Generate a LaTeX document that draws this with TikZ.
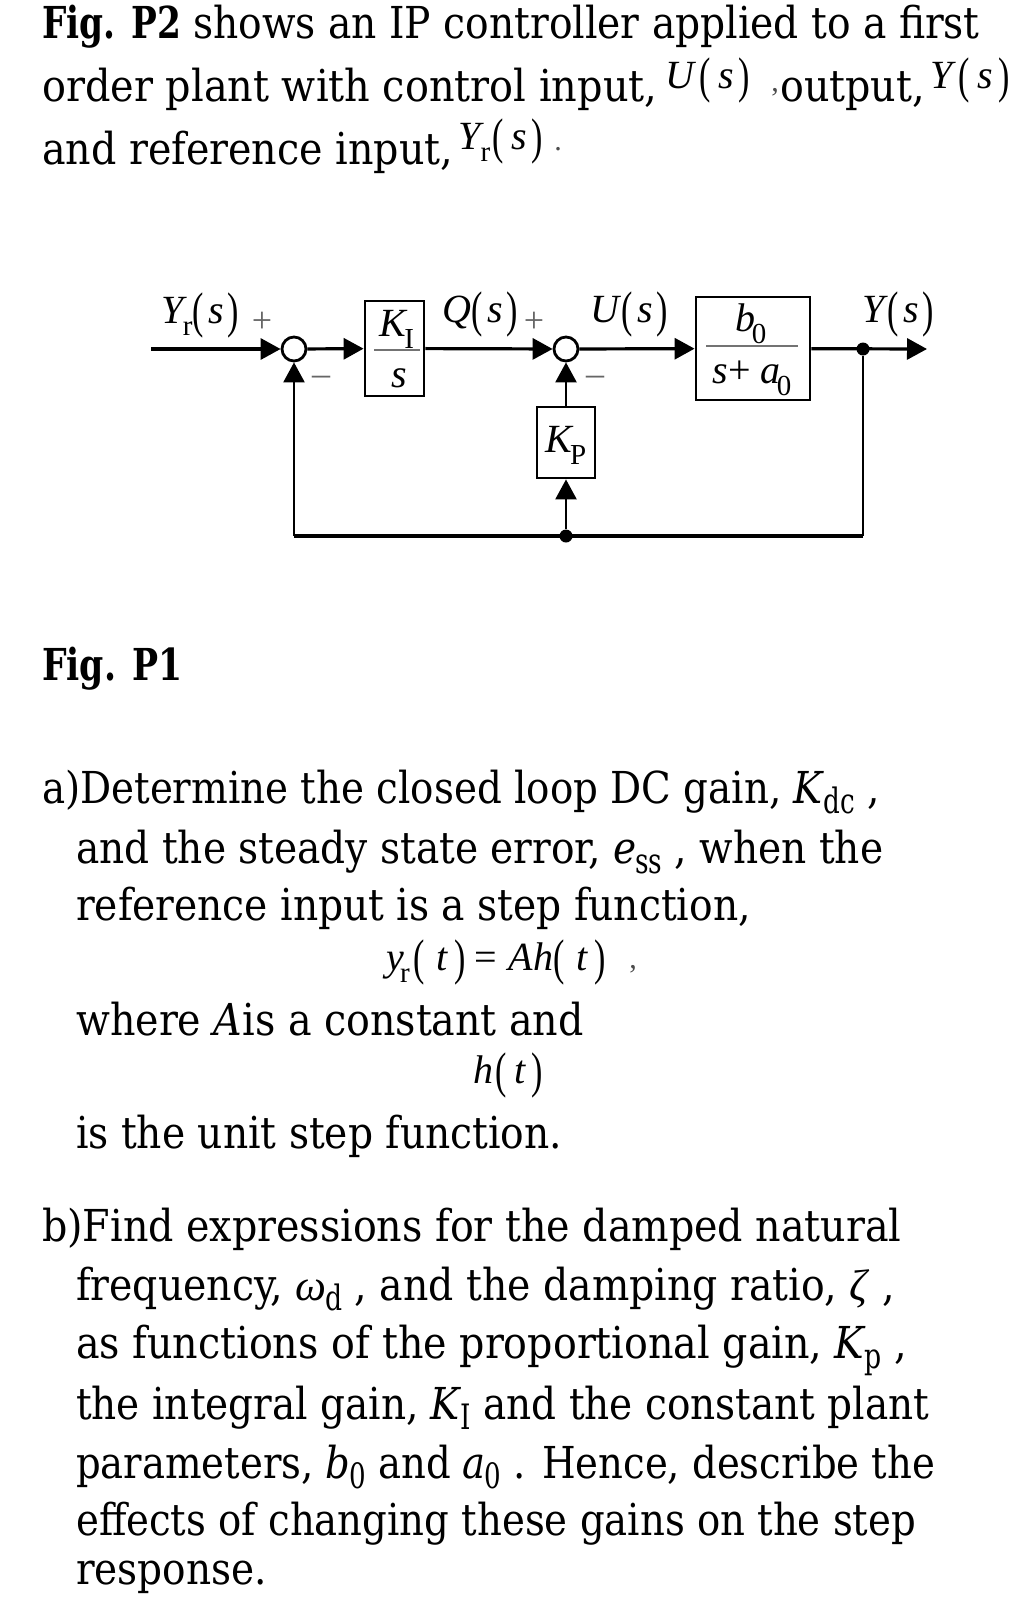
\documentclass[tikz,border=0pt]{standalone}
\usepackage{fontspec}
\setmainfont{DejaVu Serif Condensed}
\newfontfamily\eqfont{Liberation Serif}
\usetikzlibrary{arrows.meta}
\newcommand{\eqsub}[1]{\kern-0.1em\raisebox{-0.3em}{\fontsize{29}{29}\selectfont #1}}
\newcommand{\parsub}[1]{\kern-0.03em\raisebox{-0.24em}{\fontsize{35}{35}\selectfont\scalebox{0.85}[1]{#1}}}
\newcommand{\eqparen}[1]{\raisebox{-0.12em}{\scalebox{0.85}[1.25]{#1}}}
\newcommand{\eqarg}[1]{\kern0.05em\eqparen{(}\kern0.2em\textit{#1}\kern0.12em\eqparen{)}}
\newcommand{\blockarg}[1]{\eqparen{(}\kern0.12em\textit{#1}\kern0.08em\eqparen{)}}
\newcommand{\figbold}[1]{\scalebox{0.875}[1]{\textbf{#1}}}
\tikzset{
    para/.style={anchor=base west, inner sep=0pt, font=\fontsize{44}{44}\selectfont},
    eq/.style={anchor=base, inner sep=0pt, font=\eqfont\fontsize{40}{40}\selectfont},
    tinymark/.style={anchor=base, inner sep=0pt, text=black!70, font=\eqfont\fontsize{30}{30}\selectfont},
    block/.style={draw, line width=2.8pt, inner sep=0pt},
    sumnode/.style={draw, circle, line width=2.8pt, minimum size=24pt, inner sep=0pt},
    dotnode/.style={fill, circle, minimum size=13pt, inner sep=0pt},
    sign/.style={anchor=center, inner sep=0pt, text=black!60, font=\eqfont\fontsize{36}{36}\selectfont},
    wire/.style={line width=3.2pt, -{Triangle[length=20pt,width=21pt]}},
    upwire/.style={line width=2.5pt, -{Triangle[length=20pt,width=21pt]}},
    line/.style={line width=3.2pt},
    upline/.style={line width=2.5pt},
    fracbar/.style={line width=1.8pt, color=black!55}
}
\begin{document}
\begin{tikzpicture}[x=1pt,y=-1pt]
    \useasboundingbox (0,0) rectangle (1035,1615);
    % text lines
    \foreach \n/\x/\y/\sx/\lab in {
        la/42/38/0.99/{\figbold{Fig. P2} shows an IP controller applied to a first},
        lb/42/101/1.005/{order plant with control input,},
        lc/780/101/1/{output,},
        ld/42/164/1/{and reference input,},
        le/42/680/1/{\figbold{Fig. P1}},
        lf/42/803/0.98/{a)Determine the closed loop DC gain, \textit{K}\parsub{dc} ,},
        lg/76/863/0.988/{and the steady state error, \textit{e}\parsub{ss} , when the},
        lh/76/920/0.99/{reference input is a step function,},
        li/76/1035/1/{where \textit{A}is a constant and},
        lj/76/1148/0.99/{is the unit step function.},
        lk/42/1241/1/{b)Find expressions for the damped natural},
        ll/76/1300/0.995/{frequency, {\eqfont\textit{ω}}\parsub{d} , and the damping ratio, {\eqfont\textit{ζ}} ,},
        lm/76/1358/1/{as functions of the proportional gain, \textit{K}\parsub{p} ,},
        ln/76/1419/0.985/{the integral gain, \textit{K}\parsub{I} and the constant plant},
        lo/76/1478/0.975/{parameters, \textit{b}\parsub{0} and \textit{a}\parsub{0} . Hence, describe the},
        lp/76/1535/0.976/{effects of changing these gains on the step},
        lq/76/1584/0.985/{response.}} {
        \node[para] (\n) at (\x,\y) {\scalebox{\sx}[1]{\lab}};
    }
    % formulas in the text
    \foreach \n/\x/\y/\lab in {
        fa/708/88/{\textit{U}\eqarg{s}},
        fb/970/88/{\textit{Y}\eqarg{s}},
        fc/501/149/{\textit{Y}\eqsub{r}\eqarg{s}},
        fd/496/970/{\textit{y}\eqsub{r}\kern0.1em\eqparen{(}\kern0.3em\textit{t}\kern0.15em\eqparen{)}\kern0.2em= \kern0.05em\textit{Ah}\eqparen{(}\kern0.3em\textit{t}\kern0.15em\eqparen{)}},
        fe/508/1083/{\textit{h}\eqarg{t}}} {
        \node[eq] (\n) at (\x,\y) {\lab};
    }
    \foreach \n/\x/\y/\lab in {ca/775/91/{,}, cb/558/150/{.}, cc/633/968/{,}} {
        \node[tinymark] (\n) at (\x,\y) {\lab};
    }
    % blocks
    \node[block, minimum width=59pt, minimum height=95pt] (ki) at (394.5,348.5) {};
    \node[block, minimum width=58pt, minimum height=71pt] (kp) at (566,442.5) {};
    \node[block, minimum width=114pt, minimum height=103pt] (plant) at (753,348.5) {};
    \node[sumnode] (suma) at (294,349) {};
    \node[sumnode] (sumb) at (566,349) {};
    \node[dotnode] (dotout) at (863,349) {};
    \node[dotnode] (dotfb) at (566,536) {};
    \coordinate (in) at (151,349);
    \coordinate (out) at (927,349);
    \coordinate (cornera) at (294,536);
    \coordinate (cornerb) at (863,536);
    \draw[wire] (in) -- (suma);
    \draw[wire] (suma) -- (ki);
    \draw[wire] (ki) -- (sumb);
    \draw[wire] (sumb) -- (plant);
    \draw[wire] (plant) -- (out);
    \draw[upwire] (kp) -- (sumb);
    \draw[upwire] (dotfb) -- (kp);
    \draw[upline] (dotout) -- (cornerb);
    \draw[line] (cornerb) -- (cornera);
    \draw[upwire] (cornera) -- (suma);
    % fraction bars
    \coordinate (kia) at (374,350);
    \coordinate (kib) at (420,350);
    \coordinate (pla) at (706,346);
    \coordinate (plb) at (798,346);
    \draw[fracbar] (kia) -- (kib);
    \draw[fracbar] (pla) -- (plb);
    % labels
    \foreach \n/\x/\y/\lab in {
        ya/200/323/{\textit{Y}\eqsub{r}\blockarg{s}},
        qa/480/322/{\textit{Q}\blockarg{s}},
        ua/629/322/{\textit{U}\blockarg{s}},
        yb/898/322/{\textit{Y}\blockarg{s}},
        kia/397/336/{\textit{K}\eqsub{I}},
        sa/399/387/{\textit{s}},
        ba/751/331/{\textit{b}\eqsub{0}},
        sb/752/383/{\textit{s}+ \textit{a}\eqsub{0}},
        kpa/566/452/{\textit{K}\eqsub{P}}} {
        \node[eq] (lab\n) at (\x,\y) {\lab};
    }
    \foreach \n/\x/\y/\lab in {pa/262/322/+, pb/534/322/+, ma/321/381/{–}, mb/595/381/{–}} {
        \node[sign] (\n) at (\x,\y) {\lab};
    }
\end{tikzpicture}
\end{document}
